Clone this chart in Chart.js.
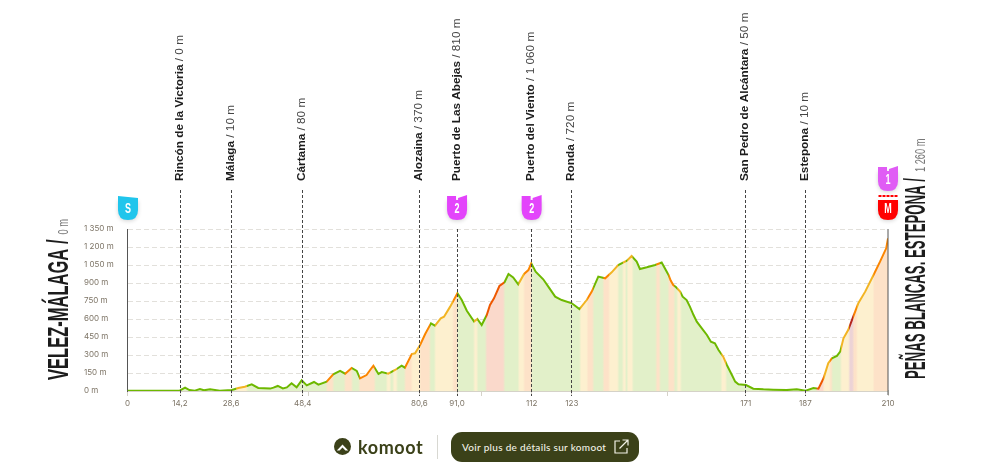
<!DOCTYPE html>
<html lang="fr">
<head>
<meta charset="utf-8">
<title>Vélez-Málaga - Peñas Blancas</title>
<script src="https://cdn.jsdelivr.net/npm/chart.js@4/dist/chart.umd.min.js"></script>
<style>
    html, body { margin: 0; padding: 0; background: #fff; overflow: hidden; }
    #wrap { position: relative; width: 986px; height: 462px; }
    #footer-logo { position: absolute; left: 334px; top: 438px; width: 17px; height: 17px; }
    #footer-name { position: absolute; left: 358px; top: 435px; font: 700 18px/24px Lato, sans-serif; color: #3b4119; letter-spacing: 0.6px; }
    #footer-sep { position: absolute; left: 437px; top: 435px; width: 1px; height: 24px; background: #d8d8d2; }
    #footer-btn { position: absolute; left: 451px; top: 432px; width: 188px; height: 30px; border-radius: 11px; background: #3b4119; color: #f2f2e6; font: 500 10px/30px Lato, sans-serif; padding-left: 11px; box-sizing: border-box; letter-spacing: 0.3px; }
    #footer-btn svg { position: absolute; left: 163px; top: 7px; }
</style>
</head>
<body>
<div id="wrap">
    <canvas id="profile" width="986" height="462"></canvas>
    <svg id="footer-logo" viewBox="0 0 17 17"><circle cx="8.5" cy="8.5" r="8.5" fill="#3b4119"/><path d="M2.8 12.6 L8.5 6.4 L14.2 12.6 L11.4 12.6 L8.5 9.6 L5.6 12.6 Z" fill="#fff"/></svg>
    <div id="footer-name">komoot</div>
    <div id="footer-sep"></div>
    <div id="footer-btn">Voir plus de détails sur komoot
        <svg width="15" height="15" viewBox="0 0 15 15" fill="none" stroke="#f2f2e6" stroke-width="1.2"><path d="M6 2 H1 V14 H13 V9"/><path d="M5.5 9.5 L13.5 1.5 M8.5 1 H14 V6.5"/></svg>
    </div>
</div>
<script>
// --- profile ---
const distKm = [0, 14.5, 15.9, 17.1, 18.6, 20, 21.1, 22.8, 25.5, 28.8, 30.6, 32.4, 34.3, 36.1, 39.4, 40.3, 41.5, 42.9, 44, 45.3, 46.7, 48.1, 49.5, 51.5, 52.7, 55, 56.8, 58.7, 60.1, 61.9, 63.3, 64.2, 66, 67, 67.9, 69.3, 70.2, 72, 73.9, 75.7, 76.6, 78.5, 79.4, 80.8, 82.2, 83.8, 84.9, 86.5, 87.4, 89.1, 91.1, 92.3, 93.7, 95.7, 96.6, 97.8, 99.2, 100.1, 101.2, 102.7, 104.1, 105.2, 106.5, 107.9, 109.5, 110.7, 111.5, 112.7, 114.8, 116.2, 118.1, 119.9, 122.7, 124.8, 126.8, 128.2, 130, 131.9, 133.7, 135.5, 137.9, 139.2, 140.6, 141.5, 143.4, 145.7, 147.5, 149.4, 150, 150.7, 151.5, 152.6, 153.3, 154.4, 155.3, 156.3, 157.2, 158.6, 160, 161.1, 162.2, 163.2, 164.5, 165.5, 166.9, 167.8, 168.7, 170.8, 172.8, 175.6, 178.3, 182, 184.8, 187.3, 189.4, 190.8, 192.2, 193.5, 194.5, 195.9, 196.8, 197.7, 199, 200.4, 201.8, 203.7, 206, 207.8, 209.5, 210];
const elevM = [3, 5, 28, 8, 3, 17, 6, 14, 3, 8, 25, 36, 55, 25, 20, 28, 42, 22, 30, 64, 30, 89, 47, 75, 53, 78, 139, 167, 144, 192, 167, 105, 133, 175, 211, 142, 158, 144, 175, 211, 194, 308, 314, 383, 475, 564, 544, 606, 619, 703, 814, 758, 669, 578, 600, 550, 633, 717, 772, 875, 906, 975, 947, 889, 975, 1008, 1064, 994, 931, 870, 786, 758, 731, 683, 758, 828, 953, 939, 989, 1050, 1086, 1125, 1078, 1017, 1031, 1050, 1070, 967, 920, 883, 864, 828, 786, 758, 703, 633, 578, 522, 467, 411, 397, 342, 286, 217, 133, 78, 56, 50, 19, 14, 11, 8, 14, 3, 25, 19, 106, 231, 272, 292, 328, 439, 508, 619, 731, 828, 967, 1078, 1189, 1272];

// gradient bands: each band ends at bandEndKm, class 0 flat .. 4 very steep
const bandEndKm = [30, 33, 55, 56.8, 60, 62, 64, 66.5, 68.3, 71.6, 72.6, 73.4, 74.4, 76.6, 78.5, 80.8, 83.5, 84.9, 86.2, 89.9, 91.1, 95.7, 96.6, 99, 104, 108, 109.5, 111.6, 125, 127, 128.6, 131.4, 133, 135.5, 136.8, 137.6, 138, 139.5, 146, 147, 149.4, 151, 151.8, 152.8, 164, 165.3, 190.3, 192.2, 194, 194.5, 197, 199.3, 200.4, 201.4, 205.5, 206, 210];
const bandClass = [0, 1, 0, 2, 0, 2, 0, 2, 2, 0, 1, 0, 1, 0, 2, 1, 2, 0, 1, 1, 2, 0, 1, 0, 3, 0, 1, 2, 0, 1, 2, 0, 2, 1, 0, 1, 0, 1, 0, 2, 0, 2, 0, 1, 0, 1, 0, 3, 1, 2, 0, 1, 4, 2, 1, 1, 2];

const lineColors = ['#6db800', '#f2b423', '#fb8500', '#ee5800', '#b5261e'];
const fillColors = ['#e2f0c9', '#fdf0cf', '#fde2c8', '#fad9cb', '#ecd3d6'];

const yTicks = [0, 150, 300, 450, 600, 750, 900, 1050, 1200, 1350];
const yTickLabels = ['0 m', '150 m', '300 m', '450 m', '600 m', '750 m', '900 m', '1 050 m', '1 200 m', '1 350 m'];
const xTicks = [0, 14.5, 28.6, 48.4, 50, 80.6, 91, 97.7, 111.6, 122.7, 149, 170.7, 187.2, 210];
const xTickLabels = ['0', '14,2', '28,6', '48,4', '', '80,6', '91,0', '', '112', '123', '', '171', '187', '210'];

const wpKm = [14.5, 28.6, 48.4, 80.6, 91, 111.6, 122.7, 170.7, 187.2];
const wpNames = ['Rincón de la Victoria', 'Málaga', 'Cártama', 'Alozaina', 'Puerto de Las Abejas', 'Puerto del Viento', 'Ronda', 'San Pedro de Alcántara', 'Estepona'];
const wpHeights = ['0 m', '10 m', '80 m', '370 m', '810 m', '1 060 m', '720 m', '50 m', '10 m'];

const badgeKm = [0, 91, 111.6, 210, 210];
const badgeText = ['S', '2', '2', '1', 'M'];
const badgeKind = ['start', 'climb', 'climb', 'climb2', 'finish'];

// left-to-right gradient with soft edges between the bands
function bandGradient(chart, palette, edge) {
    const area = chart.chartArea;
    if (!area) return palette[0];
    const g = chart.ctx.createLinearGradient(area.left, 0, area.right, 0);
    let start = 0;
    bandEndKm.forEach((end, i) => {
        const soft = Math.min(edge, (end - start) / 2);
        g.addColorStop((start + soft) / 210, palette[bandClass[i]]);
        g.addColorStop((end - soft) / 210, palette[bandClass[i]]);
        start = end;
    });
    return g;
}

// shield badge
function drawBadge(c, x, top, kind, label) {
    const colors = { start: '#20c5ec', climb: '#e344fb', climb2: '#e05cf5', finish: '#ff0000' };
    const w = 20, h = 25, l = x - w / 2;
    c.save();
    c.shadowColor = 'rgba(0,0,0,0.18)';
    c.shadowBlur = 4;
    c.shadowOffsetY = 1;
    c.fillStyle = colors[kind];
    c.beginPath();
    c.moveTo(l, top + 5);
    c.lineTo(l + w, top + 5);
    c.lineTo(l + w, top + h - 10);
    c.quadraticCurveTo(l + w, top + h, x, top + h);
    c.quadraticCurveTo(l, top + h, l, top + h - 10);
    c.closePath();
    c.fill();
    c.shadowColor = 'transparent';
    if (kind === 'finish') {
        c.fillStyle = '#ff0000';
        for (let i = 0; i < 5; i++) c.fillRect(l + i * 4 + 0.5, top, 3, 2);
        c.fillStyle = '#fff';
        c.fillRect(l, top + 3, w, 2);
    } else {
        c.beginPath();
        c.moveTo(l, top + 1);
        c.lineTo(kind === 'start' ? l + w : x - 1, top + (kind === 'start' ? 3 : 1));
        c.lineTo(kind === 'start' ? l + w : x - 1, top + 5);
        c.lineTo(l, top + 5);
        c.closePath();
        c.fill();
        if (kind !== 'start') {
            c.beginPath();
            c.moveTo(x + 1, top + 3);
            c.lineTo(l + w, top);
            c.lineTo(l + w, top + 5);
            c.lineTo(x + 1, top + 5);
            c.closePath();
            c.fill();
        }
    }
    c.fillStyle = '#fff';
    c.textAlign = 'center';
    c.textBaseline = 'middle';
    c.translate(x, top + 14);
    c.scale(0.6, 1);
    c.font = 'bold 15px "Liberation Sans Narrow", "Liberation Sans"';
    c.fillText(label, 0, 0);
    c.restore();
}

// rotated town name + height, reading bottom to top
function drawTitle(c, x, yBottom, name, height, squash, gap) {
    c.save();
    c.translate(x, yBottom);
    c.rotate(-Math.PI / 2);
    c.textBaseline = 'alphabetic';
    c.textAlign = 'left';
    c.fillStyle = '#1c1c1c';
    c.save();
    c.scale(squash, 1);
    c.font = 'bold 29px "Liberation Sans Narrow", "Liberation Sans"';
    c.fillText(name, 0, 0);
    const nameW = c.measureText(name).width * squash;
    c.restore();
    c.fillStyle = '#777';
    c.scale(0.62, 1);
    c.font = '15px "Liberation Sans Narrow", "Liberation Sans"';
    c.fillText(height, (nameW + gap) / 0.62, 0);
    c.restore();
}

const profileDecor = {
    id: 'profileDecor',
    afterDatasetsDraw(chart) {
        const c = chart.ctx, sx = chart.scales.x, sy = chart.scales.y;
        const y0 = sy.getPixelForValue(0), yTop = sy.getPixelForValue(1350);
        c.save();
        // waypoint dashed lines and labels
        wpKm.forEach((km, i) => {
            const x = Math.floor(sx.getPixelForValue(km)) + 0.5;
            const isPass = (km === 91 || km === 111.6);
            c.strokeStyle = '#444';
            c.lineWidth = 1;
            c.setLineDash([3, 2]);
            c.beginPath();
            c.moveTo(x, isPass ? yTop : 190);
            c.lineTo(x, y0 + 5);
            c.stroke();
            c.setLineDash([]);

            c.save();
            c.translate(x + 2, 181);
            c.rotate(-Math.PI / 2);
            c.textAlign = 'left';
            c.textBaseline = 'alphabetic';
            c.fillStyle = '#1d1d1d';
            c.font = 'bold 11.8px "Liberation Sans"';
            c.fillText(wpNames[i], 0, 0);
            const w = c.measureText(wpNames[i]).width;
            c.fillStyle = '#444';
            c.font = '11.8px "Liberation Sans"';
            c.fillText(' / ' + wpHeights[i], w, 0);
            c.restore();
        });
        // right edge of the profile
        const xEnd = sx.getPixelForValue(210);
        c.strokeStyle = '#555';
        c.lineWidth = 1;
        c.beginPath();
        c.moveTo(xEnd, yTop);
        c.lineTo(xEnd, y0 + 4);
        c.stroke();
        c.restore();

        badgeKm.forEach((km, i) => {
            const top = badgeKind[i] === 'climb2' ? 166 : 195;
            drawBadge(c, sx.getPixelForValue(km) + (km === 0 ? 0.5 : 0), top, badgeKind[i], badgeText[i]);
        });

        drawTitle(c, 68, 380, 'VELEZ-MÁLAGA /', '0 m', 0.57, 5);
        drawTitle(c, 925, 379, 'PEÑAS BLANCAS. ESTEPONA /', '1 260 m', 0.455, 6);
    }
};

new Chart(document.getElementById('profile').getContext('2d'), {
    type: 'line',
    data: {
        datasets: [{
            data: distKm.map((km, i) => ({ x: km, y: elevM[i] })),
            borderWidth: 2,
            pointRadius: 0,
            tension: 0,
            fill: 'origin',
            borderColor: ctx => bandGradient(ctx.chart, lineColors, 0.15),
            backgroundColor: ctx => bandGradient(ctx.chart, fillColors, 0.3)
        }]
    },
    options: {
        responsive: false,
        animation: false,
        layout: { padding: { left: 84, right: 98, top: 229, bottom: 49 } },
        plugins: { legend: { display: false }, tooltip: { enabled: false } },
        scales: {
            x: {
                type: 'linear',
                min: 0,
                max: 210,
                afterBuildTicks: axis => { axis.ticks = xTicks.map(v => ({ value: v })); },
                afterFit: axis => { axis.height = 22; },
                grid: { drawOnChartArea: false, drawTicks: true, tickLength: 5, color: '#d5d2c8' },
                border: { display: true, color: '#d5d2c8', width: 2 },
                ticks: {
                    autoSkip: false,
                    maxRotation: 0,
                    padding: 3,
                    color: '#7d7466',
                    font: { family: 'Inter', size: 8 },
                    callback: (value) => xTickLabels[xTicks.indexOf(value)]
                }
            },
            y: {
                type: 'linear',
                min: 0,
                max: 1350,
                afterBuildTicks: axis => { axis.ticks = yTicks.map(v => ({ value: v })); },
                afterFit: axis => { axis.width = 43.5; },
                grid: { color: '#e2e0db', lineWidth: 1, drawTicks: false },
                border: { display: true, color: '#555', width: 1, dash: [5, 3] },
                ticks: {
                    padding: 13,
                    crossAlign: 'far',
                    color: '#7d7466',
                    font: { family: 'Inter', size: 8 },
                    callback: (value) => yTickLabels[yTicks.indexOf(value)]
                }
            }
        }
    },
    plugins: [profileDecor]
});
</script>
</body>
</html>
